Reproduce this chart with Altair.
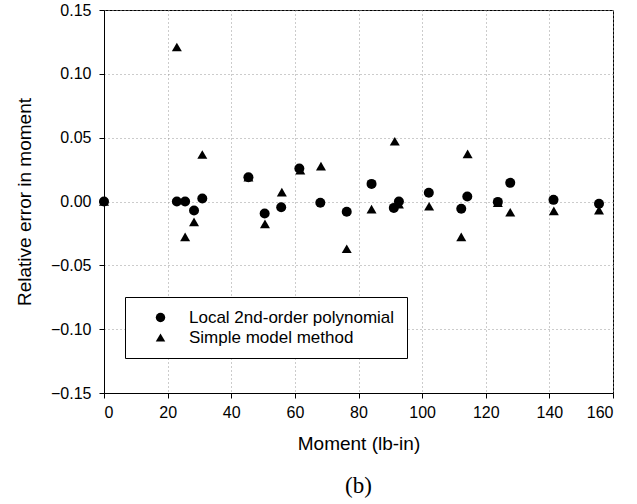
import altair as alt
import pandas as pd

poly_x = [0, 22.9, 25.5, 28.3, 30.9, 45.4, 50.5, 55.7, 61.4, 68.0, 76.3, 84.1,
          91.1, 92.7, 102.1, 112.3, 114.2, 123.8, 127.7, 141.3, 155.6]
poly_y = [0.0, 0.0, 0.0, -0.007, 0.0023, 0.019, -0.0094, -0.0045, 0.0258, -0.001, -0.008, 0.0138,
          -0.005, 0.0, 0.0068, -0.0057, 0.0039, -0.0003, 0.0146, 0.0013, -0.0018]

simple_x = [0, 22.9, 25.5, 28.3, 30.9, 45.4, 50.6, 55.9, 61.7, 68.2, 76.3, 84.1,
            91.4, 92.7, 102.2, 112.3, 114.3, 123.8, 127.7, 141.4, 155.6]
simple_y = [0.0, 0.121, -0.0277, -0.016, 0.0368, 0.019, -0.0175, 0.0073, 0.0245, 0.0277, -0.037, -0.006,
            0.0472, -0.002, -0.0037, -0.0277, 0.0373, -0.001, -0.0084, -0.0073, -0.0068]

series_names = ["Local 2nd-order polynomial", "Simple model method"]

df = pd.concat([
    pd.DataFrame({"x": simple_x, "y": simple_y, "series": series_names[1], "order": 0}),
    pd.DataFrame({"x": poly_x, "y": poly_y, "series": series_names[0], "order": 1}),
])

FONT = "Liberation Sans"

chart = alt.Chart(df).mark_point(filled=True, opacity=1, color="black", size=100).encode(
    x=alt.X("x:Q", title="Moment (lb-in)",
            scale=alt.Scale(domain=[0, 160], nice=False),
            axis=alt.Axis(values=[0, 20, 40, 60, 80, 100, 120, 140, 160], format="d",
                          titlePadding=14, labelPadding=6)),
    y=alt.Y("y:Q", title="Relative error in moment",
            scale=alt.Scale(domain=[-0.15, 0.15], nice=False),
            axis=alt.Axis(values=[-0.15, -0.10, -0.05, 0.0, 0.05, 0.10, 0.15], format=".2f",
                          titlePadding=16, labelPadding=8)),
    shape=alt.Shape("series:N",
                    scale=alt.Scale(domain=series_names, range=["circle", "triangle-up"]),
                    legend=alt.Legend(title=None, orient="none", legendX=21, legendY=287,
                                      strokeColor="black", fillColor="white", padding=12,
                                      symbolOffset=15, labelOffset=20, rowPadding=2,
                                      symbolSize=90, symbolFillColor="black",
                                      symbolStrokeColor="black", labelFontSize=17,
                                      labelFont=FONT, labelColor="black",
                                      labelLimit=300, cornerRadius=0)),
    order=alt.Order("order:Q"),
).properties(
    width=509, height=383,
    padding={"left": 104, "top": 10, "right": 24, "bottom": 111},
    autosize=alt.AutoSizeParams(type="none"),
    background="white",
    title=alt.TitleParams("(b)", orient="bottom", font="Liberation Serif", fontSize=23,
                          fontWeight="normal", color="black", offset=22),
).configure_view(
    stroke="black", strokeWidth=1,
).configure_axis(
    grid=True, gridColor="#999999", gridDash=[1, 3], gridWidth=1,
    domainColor="black", tickColor="black", tickSize=5,
    labelFont=FONT, labelFontSize=16, labelColor="black",
    titleFont=FONT, titleFontSize=19, titleFontWeight="normal", titleColor="black",
)

chart.save("out.html", embed_options={"renderer": "svg", "actions": False})
